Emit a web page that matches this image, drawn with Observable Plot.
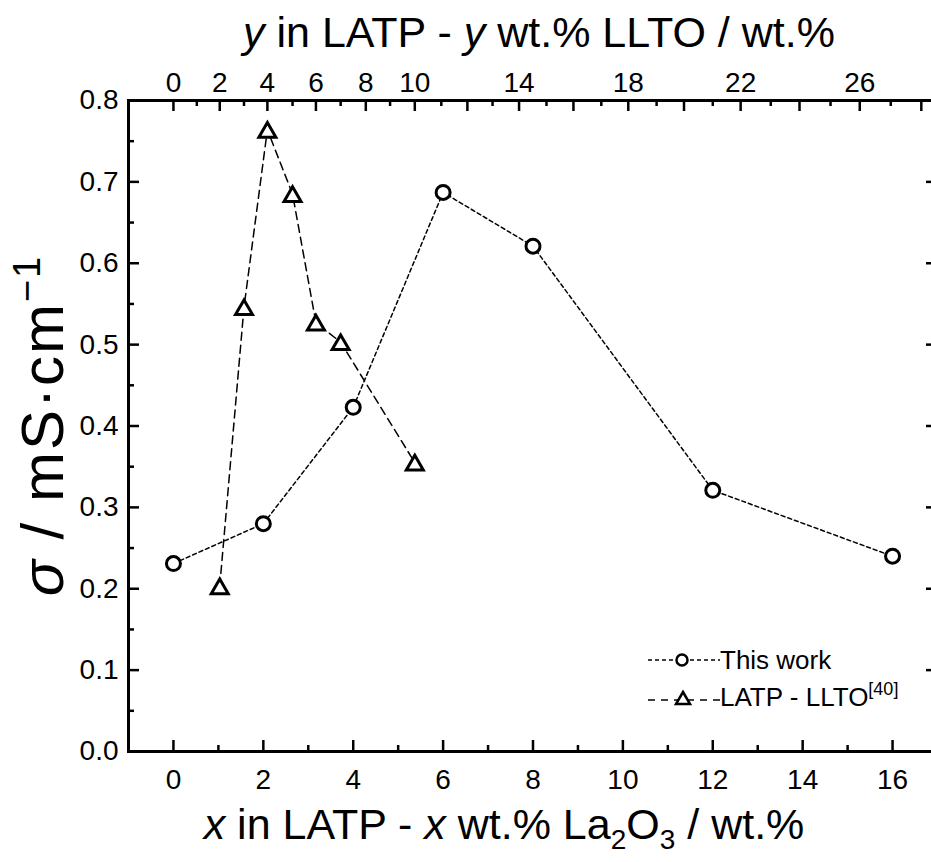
<!DOCTYPE html>
<html><head><meta charset="utf-8">
<script src="https://cdn.jsdelivr.net/npm/d3@7"></script>
<script src="https://cdn.jsdelivr.net/npm/@observablehq/plot@0.6"></script>
<style>
html,body{margin:0;padding:0;background:#fff;overflow:hidden;}
#chart{position:relative;width:931px;height:862px;overflow:hidden;font-family:"Liberation Sans",Arial,sans-serif;color:#000;}
#chart svg{max-width:none !important;display:block;}
.legend{position:absolute;left:648px;top:641px;font-size:26px;line-height:40px;white-space:nowrap;}
.legend .row{display:flex;align-items:center;height:38px;}
.legend sup{font-size:18px;vertical-align:0;position:relative;top:-11px;}
</style></head><body><div id="chart"></div>
<script>
// ---- data ----
const workX = [0, 2, 4, 6, 8, 12, 16];                 // x wt.% La2O3
const workSigma = [0.231, 0.280, 0.423, 0.687, 0.621, 0.321, 0.240];
const lltoY = [2, 3, 4, 5, 6, 7, 10];                   // y wt.% LLTO
const lltoSigma = [0.203, 0.546, 0.764, 0.685, 0.527, 0.503, 0.355];
const bottomMajor = [0, 2, 4, 6, 8, 10, 12, 14, 16];
const bottomMinor = [-1, 1, 3, 5, 7, 9, 11, 13, 15];
const yMajor = [0, 0.1, 0.2, 0.3, 0.4, 0.5, 0.6, 0.7, 0.8];
const yMinor = [0.05, 0.15, 0.25, 0.35, 0.45, 0.55, 0.65, 0.75];
// top axis: y wt.% LLTO values and where they fall on the bottom (x) axis
const topTickValues = [0,1,2,3,4,5,6,7,8,9,10,11,12,13,14,15,16,17,18,19,20,21,22,23,24,25,26,27,28];
const topTickX = [0,0.52,1.03,1.57,2.09,2.65,3.17,3.72,4.28,4.82,5.37,5.96,6.54,7.10,7.69,8.30,8.90,9.52,10.12,10.75,11.36,12.00,12.62,13.29,13.93,14.62,15.27,15.96,16.64];
const topLabels = [0, 2, 4, 6, 8, 10, 14, 18, 22, 26];

const toX = d3.scaleLinear().domain(topTickValues).range(topTickX);
const work = workX.map((x, i) => ({x, s: workSigma[i]}));
const llto = lltoY.map((y, i) => ({x: toX(y), s: lltoSigma[i]}));
const topMajor = topTickValues.filter(t => t % 2 === 0).map(toX);
const topMinor = topTickValues.filter(t => t % 2 === 1).map(toX);

const FONT = '"Liberation Sans", Arial, sans-serif';
const W = 940, H = 862, ML = 128, MR = 3, MT = 100, MB = 111;
const PW = W - ML - MR, PH = H - MT - MB;
const tw = 2.5, big = 11, small = 6;
const plot = Plot.plot({
  width: W, height: H,
  marginLeft: ML, marginRight: MR, marginTop: MT, marginBottom: MB,
  style: {fontFamily: FONT, background: "white", color: "black", overflow: "hidden"},
  x: {domain: [-1, 17], label: null},
  y: {domain: [0, 0.8], label: null},
  marks: [
    // inward ticks
    Plot.ruleX(bottomMajor, {x: d => d, insetTop: PH - big, strokeWidth: tw}),
    Plot.ruleX(bottomMinor, {x: d => d, insetTop: PH - small, strokeWidth: tw}),
    Plot.ruleX(topMajor, {x: d => d, insetBottom: PH - big, strokeWidth: tw}),
    Plot.ruleX(topMinor, {x: d => d, insetBottom: PH - small, strokeWidth: tw}),
    Plot.ruleY(yMajor, {y: d => d, insetRight: PW - big, strokeWidth: tw}),
    Plot.ruleY(yMinor, {y: d => d, insetRight: PW - small, strokeWidth: tw}),
    Plot.ruleY(yMajor, {y: d => d, insetLeft: PW - big, strokeWidth: tw}),
    Plot.ruleY(yMinor, {y: d => d, insetLeft: PW - small, strokeWidth: tw}),
    // tick labels
    Plot.axisX(bottomMajor, {anchor: "bottom", tickSize: 0, tickPadding: 18, fontSize: 28, label: null, tickFormat: d => String(d)}),
    Plot.axisX(topLabels.map(toX), {anchor: "top", tickSize: 0, tickPadding: 9, fontSize: 28, label: null, tickFormat: d => String(Math.round(toX.invert(d)))}),
    Plot.axisY(yMajor, {anchor: "left", tickSize: 0, tickPadding: 10, fontSize: 28, label: null, tickFormat: d3.format(".1f")}),
    Plot.frame({strokeWidth: 3}),
    Plot.line(work, {x: "x", y: "s", stroke: "black", strokeWidth: 1.5, strokeDasharray: "4,3"}),
    Plot.line(llto, {x: "x", y: "s", stroke: "black", strokeWidth: 1.5, strokeDasharray: "8,5"}),
    Plot.dot(work, {x: "x", y: "s", r: 7, stroke: "black", fill: "white", strokeWidth: 3}),
    Plot.dot(llto, {x: "x", y: "s", symbol: "triangle", r: 6.3, dy: 2.5, stroke: "black", fill: "white", strokeWidth: 3, strokeLinejoin: "miter"})
  ]
});
const chart = document.getElementById("chart");
chart.appendChild(plot);

// titles
const svg = d3.select(plot);
const t1 = svg.append("text").attr("x", 539).attr("y", 47).attr("text-anchor", "middle")
  .attr("font-size", 43).attr("font-family", FONT).attr("fill", "black");
t1.append("tspan").attr("font-style", "italic").text("y");
t1.append("tspan").text(" in LATP - ");
t1.append("tspan").attr("font-style", "italic").text("y");
t1.append("tspan").text(" wt.% LLTO / wt.%");

const t2 = svg.append("text").attr("x", 504).attr("y", 839).attr("text-anchor", "middle")
  .attr("font-size", 43).attr("font-family", FONT).attr("fill", "black");
t2.append("tspan").attr("font-style", "italic").text("x");
t2.append("tspan").text(" in LATP - ");
t2.append("tspan").attr("font-style", "italic").text("x");
t2.append("tspan").text(" wt.% La");
t2.append("tspan").attr("font-size", 28).attr("dy", 10).text("2");
t2.append("tspan").attr("dy", -10).text("O");
t2.append("tspan").attr("font-size", 28).attr("dy", 10).text("3");
t2.append("tspan").attr("dy", -10).text(" / wt.%");

const t3 = svg.append("text").attr("transform", `translate(63,${(MT + H - MB) / 2}) rotate(-90)`)
  .attr("text-anchor", "middle").attr("font-size", 60).attr("letter-spacing", 2)
  .attr("font-family", FONT).attr("fill", "black");
t3.append("tspan").attr("font-style", "italic").text("σ");
t3.append("tspan").text(" / mS·cm");
t3.append("tspan").attr("font-size", 38).attr("dy", -23).text("−1");

// legend
const lg = document.createElement("div");
lg.className = "legend";
lg.innerHTML = `
<div class="row"><svg width="72" height="20"><line x1="0" y1="10" x2="72" y2="10" stroke="black" stroke-width="1.5" stroke-dasharray="4,3"/><circle cx="34" cy="10" r="5.5" fill="white" stroke="black" stroke-width="2.5"/></svg><span>This work</span></div>
<div class="row"><svg width="72" height="20"><line x1="0" y1="12" x2="72" y2="12" stroke="black" stroke-width="1.5" stroke-dasharray="7,6"/><path d="M35,4L42,16L28,16Z" fill="white" stroke="black" stroke-width="2.5" stroke-linejoin="miter"/></svg><span>LATP - LLTO<sup>[40]</sup></span></div>`;
chart.appendChild(lg);
</script>
</body></html>
